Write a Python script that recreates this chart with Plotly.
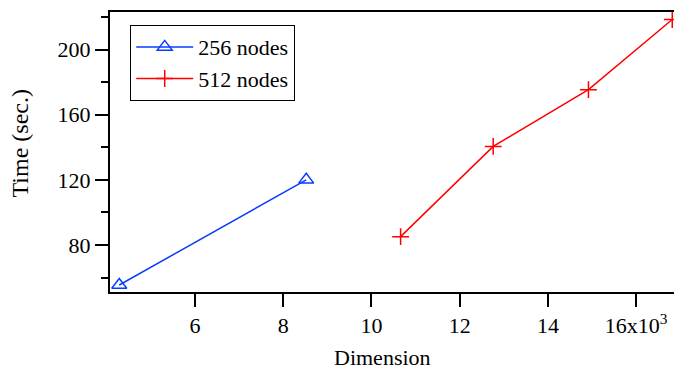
import plotly.graph_objects as go

# Data (dimension in thousands, time in seconds)
dim_256 = [4.28, 8.52]
time_256 = [55.4, 120.0]
dim_512 = [10.66, 12.76, 14.92, 16.82]
time_512 = [85.1, 140.5, 175.4, 218.5]

x_tickvals = [6, 8, 10, 12, 14, 16]
x_ticktext = ["6", "8", "10", "12", "14", "16x10<sup>3</sup>"]
y_tickvals = [80, 120, 160, 200]

FONT = "Liberation Serif, Times New Roman, serif"

fig = go.Figure()
fig.add_trace(go.Scatter(
    x=dim_256, y=time_256, mode="lines+markers", name="256 nodes",
    line=dict(color="#0a3cff", width=1.5),
    marker=dict(symbol="triangle-up-open", size=13, color="#0a3cff",
                line=dict(width=1.5, color="#0a3cff")),
))
fig.add_trace(go.Scatter(
    x=dim_512, y=time_512, mode="lines+markers", name="512 nodes",
    line=dict(color="#ff0000", width=1.5),
    marker=dict(symbol="cross-thin-open", size=12, color="#ff0000",
                line=dict(width=1.5, color="#ff0000")),
))

fig.update_layout(
    width=674, height=371,
    margin=dict(l=110, r=0, t=12, b=79),
    paper_bgcolor="white", plot_bgcolor="white",
    font=dict(family=FONT, size=22, color="black"),
    showlegend=True,
    legend=dict(x=0.0355, y=0.954, xanchor="left", yanchor="top",
                bordercolor="black", borderwidth=1.2, bgcolor="white",
                font=dict(family=FONT, size=22), itemwidth=57,
                tracegroupgap=0),
    xaxis=dict(range=[4.07, 16.86], tickvals=x_tickvals, ticktext=x_ticktext,
               ticks="outside", ticklen=13, tickwidth=1.5, tickcolor="black",
               showline=True, linecolor="black", linewidth=2, mirror=True,
               showgrid=False, zeroline=False,
               tickfont=dict(family=FONT, size=22)),
    yaxis=dict(range=[51.1, 223.1], tickvals=y_tickvals,
               ticks="outside", ticklen=13, tickwidth=1.5, tickcolor="black",
               minor=dict(dtick=20, tick0=0, ticks="outside", ticklen=7,
                          tickwidth=1.5, tickcolor="black"),
               showline=True, linecolor="black", linewidth=2, mirror=False,
               showgrid=False, zeroline=False,
               tickfont=dict(family=FONT, size=22)),
    annotations=[
        dict(text="Dimension", xref="paper", yref="paper",
             x=(382 - 110) / 564, y=(292 - 357) / 280, xanchor="center",
             yanchor="middle", showarrow=False,
             font=dict(family=FONT, size=22)),
        dict(text="Time (sec.)", xref="paper", yref="paper",
             x=(19 - 110) / 564, y=(292 - 143.5) / 280, xanchor="center",
             yanchor="middle", textangle=-90, showarrow=False,
             font=dict(family=FONT, size=24)),
    ],
)

fig.write_html(
    "out.html",
    config={"displayModeBar": False},
    post_script="document.body.style.margin='0';document.body.style.padding='0';",
)
